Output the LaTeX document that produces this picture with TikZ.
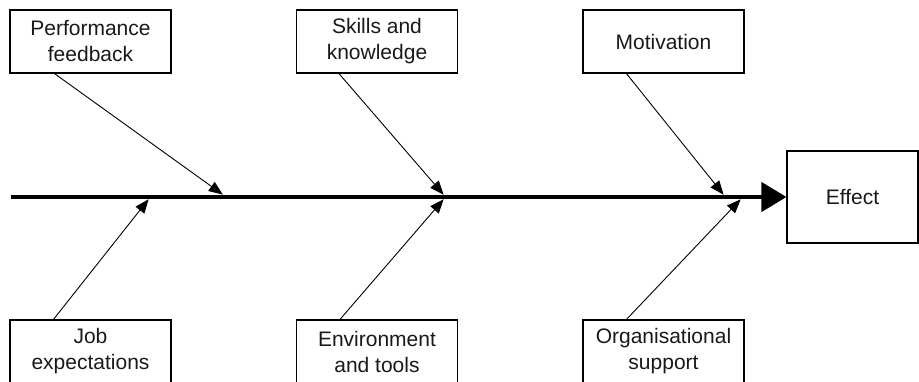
\documentclass[tikz,border=0pt]{standalone}
\usepackage{fontspec}
\setmainfont{Liberation Sans}
\usetikzlibrary{arrows.meta,calc}
\begin{document}
\begin{tikzpicture}[x=1pt,y=-1pt,
  causebox/.style={draw, line width=1.1pt, minimum width=161pt, minimum height=63pt, inner sep=0pt, align=center, font=\fontsize{21}{26}\selectfont, text=black!90},
  effectbox/.style={draw, line width=1.1pt, minimum width=131pt, minimum height=92pt, inner sep=0pt, font=\fontsize{21}{26}\selectfont, text=black!90},
  spine/.style={line width=4.5pt, -{Triangle[length=25pt,width=29pt]}},
  bone/.style={line width=0.9pt, -{Triangle[length=14pt,width=11pt]}, shorten >=-1pt}
]
\useasboundingbox (0,0) rectangle (919,381);
\clip (0,0) rectangle (919,381);
\node[causebox] (pf) at (90.5,41.5) {Performance\\feedback};
\node[causebox] (sk) at (377,41.5) {Skills and\\knowledge};
\node[causebox] (mo) at (663.5,41.5) {Motivation};
\node[causebox] (je) at (90.5,351.5) {Job\\expectations};
\node[causebox] (et) at (377,351.5) {Environment\\and tools};
\node[causebox] (os) at (663.5,351.5) {Organisational\\support};
\node[effectbox] (ef) at (852.5,197) {Effect};
\coordinate (start) at (11,197);
\draw[spine] (start) -- (ef.west);
\coordinate (pfa) at ($(pf.south west)+(45,0)$);
\coordinate (ska) at ($(sk.south west)+(43,0)$);
\coordinate (moa) at ($(mo.south west)+(44,0)$);
\coordinate (jea) at ($(je.north west)+(44,0)$);
\coordinate (eta) at ($(et.north west)+(44,0)$);
\coordinate (osa) at ($(os.north west)+(44,0)$);
\coordinate (pft) at (222,194);
\coordinate (skt) at (443,194);
\coordinate (mot) at (723,194);
\coordinate (jet) at (148,200);
\coordinate (ett) at (443,200);
\coordinate (ost) at (740,200);
\draw[bone] (pfa) -- (pft);
\draw[bone] (ska) -- (skt);
\draw[bone] (moa) -- (mot);
\draw[bone] (jea) -- (jet);
\draw[bone] (eta) -- (ett);
\draw[bone] (osa) -- (ost);
\end{tikzpicture}
\end{document}
